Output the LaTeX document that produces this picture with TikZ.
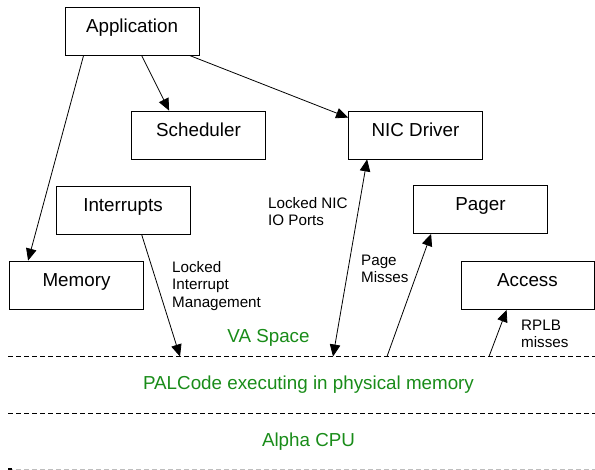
\documentclass[tikz,border=0pt]{standalone}
\usepackage{fontspec}
\setmainfont{Liberation Sans}
\usetikzlibrary{arrows.meta,calc}
\definecolor{lblgreen}{RGB}{25,140,25}
\definecolor{sepgray}{RGB}{190,190,190}
\begin{document}
\begin{tikzpicture}[x=1pt,y=-1pt,
 box/.style={draw, line width=0.8pt, minimum width=134pt, minimum height=48pt, inner sep=0pt,
   font=\fontsize{18.8}{21}\selectfont, text height=16pt, text depth=13pt},
 lbl/.style={anchor=west, align=left, inner sep=0pt, font=\fontsize{15.2}{17.5}\selectfont},
 layer/.style={text=lblgreen, inner sep=0pt, font=\fontsize{18.8}{21}\selectfont, text height=13pt, text depth=0pt},
 tip/.tip={Triangle[length=12pt,width=10.5pt]},
 conn/.style={line width=0.8pt, -tip},
 sep/.style={line width=0.8pt, dash pattern=on 5pt off 3pt}]
\useasboundingbox (0,0) rectangle (595,470);

% boxes
\node[box] (app) at (132,31) {Application};
\node[box] (sch) at (198.5,135) {Scheduler};
\node[box] (nic) at (415.5,135) {NIC Driver};
\node[box] (pag) at (480.5,209.5) {Pager};
\node[box] (int) at (123,210) {Interrupts};
\node[box] (mem) at (76.5,285) {Memory};
\node[box, minimum width=133pt] (acc) at (527.5,285.5) {Access};

% separator lines
\coordinate (l1a) at (8,356.5);  \coordinate (l1b) at (595,356.5);
\coordinate (l2a) at (8,413.5);  \coordinate (l2b) at (595,413.5);
\coordinate (l3a) at (8,469);    \coordinate (l3b) at (595,469);
\draw[sep] (l1a) -- (l1b);
\draw[sep] (l2a) -- (l2b);
\draw[sep, draw=sepgray] (l3a) -- (l3b);
\draw[line width=1.6pt] (l1a) -- ++(4,0);
\draw[line width=1.6pt] (l2a) -- ++(4,0);
\draw[line width=1.6pt] (l3a) -- ++(4,0);

% points on the VA boundary
\coordinate (pInt) at (180,356.5);
\coordinate (pNic) at (333,356.5);
\coordinate (pPag) at (387,356.5);
\coordinate (pAcc) at (489,356.5);

% connectors
\draw[conn] ($(app.south west)+(19,0)$) -- ($(mem.north west)+(19,0)$);
\draw[conn] ($(app.south west)+(77,0)$) -- ($(sch.north west)+(38,0)$);
\draw[conn] ($(app.south east)+(-10,0)$) -- ($(nic.north west)+(0,7)$);
\draw[conn] ($(int.south west)+(86,0)$) -- (pInt);
\draw[conn, tip-tip] (pNic) -- ($(nic.south west)+(19,0)$);
\draw[conn] (pPag) -- ($(pag.south west)+(18,0)$);
\draw[conn] (pAcc) -- ($(acc.south west)+(46,0)$);

% labels
\node[lbl] (lNic) at (268,211.5) {Locked NIC\\IO Ports};
\node[lbl] (lInt) at (172,286) {Locked\\Interrupt\\Management};
\node[lbl] (lPag) at (361,269) {Page\\Misses};
\node[lbl] (lAcc) at (521,334) {RPLB\\misses};

% layer names
\node[layer] (va) at (268.5,336) {VA Space};
\node[layer] (pal) at (308.5,383) {PALCode executing in physical memory};
\node[layer] (cpu) at (308.5,440) {Alpha CPU};
\end{tikzpicture}
\end{document}
